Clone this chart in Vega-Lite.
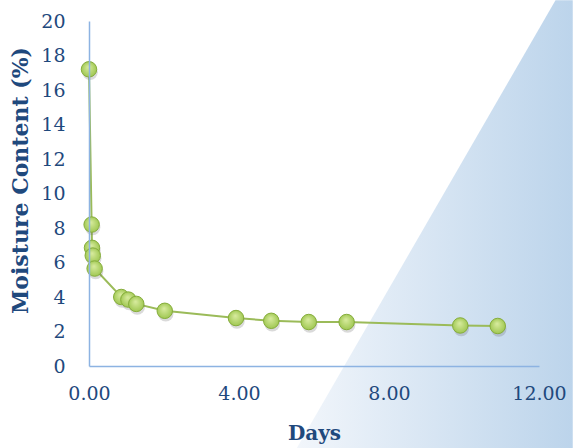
{
  "$schema": "https://vega.github.io/schema/vega-lite/v6.json",
  "width": 450,
  "height": 345,
  "autosize": {"type": "none"},
  "padding": {"left": 89, "top": 21, "right": 34, "bottom": 82},
  "background": "white",
  "config": {
    "view": {"stroke": null},
    "font": "DejaVu Serif",
    "axis": {"labelOverlap": false},
    "axisX": {
      "labelOverlap": false,
      "format": ".2f",
      "grid": false,
      "ticks": false,
      "domainColor": "#8db3e2",
      "domainWidth": 1.5,
      "labelColor": "#1f497d",
      "labelFont": "DejaVu Serif",
      "labelFontSize": 19,
      "labelPadding": 18,
      "labelFlush": false,
      "titleColor": "#1f497d",
      "titleFont": "DejaVu Serif",
      "titleFontSize": 20,
      "titleFontWeight": "bold",
      "titlePadding": 20
    },
    "axisY": {
      "labelOverlap": false,
      "grid": false,
      "ticks": false,
      "domainColor": "#8db3e2",
      "domainWidth": 1.5,
      "labelColor": "#1f497d",
      "labelFont": "DejaVu Serif",
      "labelFontSize": 19,
      "labelPadding": 24,
      "labelFlush": false,
      "titleColor": "#1f497d",
      "titleFont": "DejaVu Serif",
      "titleFontSize": 22,
      "titleFontWeight": "bold",
      "titlePadding": 8,
      "titleY": 159
    }
  },
  "datasets": {
    "moisture": [
      {"days": 0.0, "moisture": 17.2},
      {"days": 0.07, "moisture": 8.2},
      {"days": 0.08, "moisture": 6.85},
      {"days": 0.1, "moisture": 6.4},
      {"days": 0.15, "moisture": 5.65},
      {"days": 0.86, "moisture": 4.0},
      {"days": 1.05, "moisture": 3.85},
      {"days": 1.26, "moisture": 3.6},
      {"days": 2.02, "moisture": 3.2},
      {"days": 3.92, "moisture": 2.78},
      {"days": 4.86, "moisture": 2.62},
      {"days": 5.86, "moisture": 2.55},
      {"days": 6.87, "moisture": 2.55},
      {"days": 9.9, "moisture": 2.35},
      {"days": 10.9, "moisture": 2.32}
    ],
    "backdrop": [
      {"y": 21.2, "xa": 12.44, "xb": 12.9},
      {"y": -4.8, "xa": 5.53, "xb": 12.9}
    ]
  },
  "layer": [
    {
      "data": {"name": "backdrop"},
      "mark": {
        "type": "area",
        "orient": "horizontal",
        "clip": false,
        "fill": {
          "gradient": "linear",
          "x1": 0, "y1": 0, "x2": 1, "y2": 0,
          "stops": [
            {"offset": 0, "color": "#f2f6fb"},
            {"offset": 1, "color": "#bcd4eb"}
          ]
        }
      },
      "encoding": {
        "y": {
          "field": "y", "type": "quantitative",
          "scale": {"domain": [0, 20], "nice": false},
          "title": "Moisture Content (%)",
          "axis": {"zindex": 1, "values": [0, 2, 4, 6, 8, 10, 12, 14, 16, 18, 20], "labelOverlap": false}
        },
        "x": {
          "field": "xa", "type": "quantitative",
          "scale": {"domain": [0, 12], "nice": false},
          "title": "Days",
          "axis": {"zindex": 1, "values": [0, 4, 8, 12], "format": ".2f"}
        },
        "x2": {"field": "xb"}
      }
    },
    {
      "data": {"name": "moisture"},
      "encoding": {
        "x": {
          "field": "days", "type": "quantitative", "title": "Days",
          "axis": {"zindex": 1, "values": [0, 4, 8, 12], "format": ".2f"}
        },
        "y": {
          "field": "moisture", "type": "quantitative", "title": "Moisture Content (%)",
          "axis": {"zindex": 1, "values": [0, 2, 4, 6, 8, 10, 12, 14, 16, 18, 20], "labelOverlap": false}
        }
      },
      "layer": [
        {
          "mark": {"type": "line", "color": "#9bbb59", "strokeWidth": 2}
        },
        {
          "mark": {"type": "point", "filled": true, "size": 240, "color": "#555555", "opacity": 0.22, "yOffset": 3, "xOffset": 1, "strokeWidth": 0}
        },
        {
          "mark": {
            "type": "point",
            "shape": "circle",
            "size": 240,
            "opacity": 1,
            "filled": true,
            "stroke": "#86ad3c",
            "strokeWidth": 1,
            "fill": {
              "gradient": "radial",
              "x1": 0.45, "y1": 0.35, "r1": 0,
              "x2": 0.5, "y2": 0.5, "r2": 0.55,
              "stops": [
                {"offset": 0, "color": "#d9eca0"},
                {"offset": 1, "color": "#9cc54d"}
              ]
            }
          }
        }
      ]
    }
  ]
}
